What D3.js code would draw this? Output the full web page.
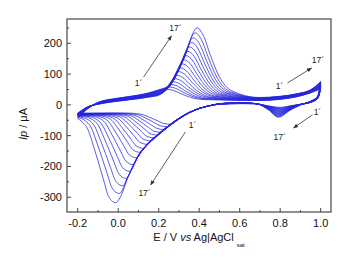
<!DOCTYPE html>
<html><head><meta charset="utf-8">
<script src="https://cdn.jsdelivr.net/npm/d3@7"></script>
<style>
html,body{margin:0;padding:0;background:#fff;}
svg{display:block;font-family:"Liberation Sans",Arial,sans-serif;}
</style></head>
<body>
<svg id="chart" width="350" height="271"></svg>
<script>
// ---------- data (E / V, Ip / µA) ----------
const cycles = [1,2,3,4,5,6,7,8,9,10,11,12,13,14,15,16,17];

const forwardScans = [
 [[-0.2,-27],[-0.15,-6],[-0.1,2],[0,12],[0.1,20],[0.15,25],[0.2,31],[0.225,45],[0.245,50],[0.275,46.4],[0.31,36.3],[0.355,24.8],[0.415,17.6],[0.7,14],[0.8,18],[0.88,26],[0.95,39],[1,52]],
 [[-0.2,-27.6],[-0.15,-6.4],[-0.1,2.4],[0,12.6],[0.1,20.8],[0.15,25.9],[0.209,35],[0.234,52],[0.254,58],[0.284,53.7],[0.319,41.7],[0.364,27.9],[0.424,19.3],[0.7,15],[0.8,19],[0.88,27],[0.95,40],[1,53.5]],
 [[-0.2,-28.3],[-0.15,-6.8],[-0.1,2.8],[0,13.3],[0.1,21.5],[0.15,26.8],[0.218,38],[0.243,59],[0.263,66],[0.293,60.9],[0.328,46.6],[0.373,30.3],[0.433,20.1],[0.7,15],[0.8,19],[0.88,27],[0.95,40],[1,55]],
 [[-0.2,-28.9],[-0.15,-7.1],[-0.1,3.1],[0,13.9],[0.1,22.3],[0.15,27.6],[0.2,34.4],[0.227,43],[0.252,67],[0.272,75],[0.302,69.1],[0.337,52.6],[0.382,33.7],[0.442,21.9],[0.7,16],[0.8,20],[0.88,28],[0.95,41],[1,56.5]],
 [[-0.2,-29.5],[-0.15,-7.5],[-0.1,3.5],[0,14.5],[0.1,23],[0.15,28.5],[0.2,35.5],[0.236,48],[0.261,76],[0.281,85],[0.311,78.2],[0.346,59.2],[0.391,37.4],[0.451,23.8],[0.7,17],[0.8,21],[0.88,29],[0.95,42],[1,58]],
 [[-0.2,-30.1],[-0.15,-7.9],[-0.1,3.9],[0,15.1],[0.1,23.8],[0.15,29.4],[0.2,36.6],[0.245,53],[0.27,85],[0.29,96],[0.32,88.1],[0.355,66],[0.4,40.7],[0.46,24.9],[0.7,17],[0.8,21],[0.88,29],[0.95,42],[1,59.5]],
 [[-0.2,-30.8],[-0.15,-8.3],[-0.1,4.3],[0,15.8],[0.1,24.5],[0.15,30.3],[0.2,37.8],[0.254,61],[0.279,96],[0.299,108],[0.329,99],[0.364,73.8],[0.409,45],[0.469,27],[0.7,18],[0.8,22],[0.88,30],[0.95,43],[1,61]],
 [[-0.2,-31.4],[-0.15,-8.6],[-0.1,4.6],[0,16.4],[0.1,25.3],[0.15,31.1],[0.2,38.9],[0.245,53],[0.263,69],[0.288,107],[0.308,120],[0.338,109.8],[0.373,81.2],[0.418,48.6],[0.478,28.2],[0.7,18],[0.8,22],[0.88,30],[0.95,43],[1,62.5]],
 [[-0.2,-32],[-0.15,-9],[-0.1,5],[0,17],[0.1,26],[0.15,32],[0.2,40],[0.245,54],[0.272,79],[0.297,120],[0.317,133],[0.347,121.6],[0.382,89.7],[0.427,53.2],[0.487,30.4],[0.7,19],[0.8,23],[0.88,31],[0.95,44],[1,64]],
 [[-0.2,-32.6],[-0.15,-9.4],[-0.1,5.4],[0,17.6],[0.1,26.8],[0.15,32.9],[0.2,41.1],[0.245,55],[0.281,89],[0.306,132],[0.326,146],[0.356,133.4],[0.391,98.1],[0.436,57.8],[0.496,32.6],[0.7,20],[0.8,24],[0.88,32],[0.95,45],[1,65.5]],
 [[-0.2,-32.9],[-0.15,-9.8],[-0.1,5.8],[0,18.3],[0.1,27.5],[0.15,33.8],[0.2,42.3],[0.245,56],[0.29,101],[0.315,145],[0.335,160],[0.365,146],[0.4,106.8],[0.445,62],[0.505,34],[0.7,20],[0.8,24],[0.88,32],[0.95,45],[1,67]],
 [[-0.2,-33.9],[-0.15,-10.1],[-0.1,6.1],[0,18.9],[0.1,28.3],[0.15,34.6],[0.2,43.4],[0.245,57],[0.299,113],[0.324,159],[0.344,174],[0.374,158.7],[0.409,115.9],[0.454,66.9],[0.514,36.3],[0.7,21],[0.8,25],[0.88,33],[0.95,46],[1,68.5]],
 [[-0.2,-35.1],[-0.15,-10.5],[-0.1,6.5],[0,19.5],[0.1,29],[0.15,35.5],[0.2,44.5],[0.245,58],[0.29,103],[0.308,126],[0.333,173],[0.353,188],[0.383,171.4],[0.418,124.9],[0.463,71.8],[0.523,38.6],[0.7,22],[0.8,26],[0.88,34],[0.95,47],[1,70]],
 [[-0.2,-36.8],[-0.15,-10.9],[-0.1,6.9],[0,20.1],[0.1,29.8],[0.15,36.4],[0.2,45.6],[0.245,59],[0.29,104],[0.317,140],[0.342,187],[0.362,203],[0.392,184.9],[0.427,134.2],[0.472,76.3],[0.532,40.1],[0.7,22],[0.8,26],[0.88,34],[0.95,47],[1,71.5]],
 [[-0.2,-38.5],[-0.15,-11.3],[-0.1,7.3],[0,20.8],[0.1,30.5],[0.15,37.3],[0.2,46.8],[0.245,59],[0.29,105],[0.326,153],[0.351,202],[0.371,218],[0.401,198.5],[0.436,143.9],[0.481,81.5],[0.541,42.5],[0.7,23],[0.8,27],[0.88,35],[0.95,48],[1,73]],
 [[-0.2,-41],[-0.15,-11.6],[-0.1,7.6],[0,21.4],[0.1,31.3],[0.15,38.1],[0.2,47.9],[0.245,60],[0.29,106],[0.335,168],[0.36,218],[0.38,234],[0.41,212.9],[0.445,153.8],[0.49,86.3],[0.55,44.1],[0.7,23],[0.8,27],[0.88,35],[0.95,48],[1,74.5]],
 [[-0.2,-44.5],[-0.15,-12],[-0.1,8],[0,22],[0.1,32],[0.15,39],[0.2,49],[0.245,60],[0.29,107],[0.344,183],[0.369,233],[0.389,250],[0.419,227.4],[0.454,164.1],[0.499,91.8],[0.559,46.6],[0.7,24],[0.8,28],[0.88,36],[0.95,49],[1,76]]
];

const reverseScans = [
 [[1,52],[0.985,20],[0.95,8],[0.9,2],[0.85,-3],[0.8,-8],[0.74,-3],[0.68,4],[0.6,8],[0.5,4],[0.45,-2.8],[0.4,-11.3],[0.35,-24.4],[0.3,-43.2],[0.26,-63],[0.225,-60.4],[0.2,-53.4],[0.175,-46],[0.15,-39],[0.123,-31.9],[0.09,-28.2],[0.05,-26.7],[0,-26.3],[-0.2,-27]],
 [[1,53.5],[0.985,20.5],[0.95,8.3],[0.9,1.9],[0.85,-3.9],[0.799,-10],[0.74,-3.8],[0.68,4],[0.6,8],[0.5,3.9],[0.45,-2.8],[0.4,-11.3],[0.35,-24.5],[0.3,-43.4],[0.27,-57],[0.243,-71],[0.208,-67.9],[0.183,-59.5],[0.158,-50.6],[0.133,-42.1],[0.106,-33.7],[0.073,-29.3],[0.033,-27.5],[-0.017,-27],[-0.2,-27.6]],
 [[1,55],[0.985,21],[0.95,8.5],[0.9,1.8],[0.85,-4.8],[0.799,-12],[0.74,-4.5],[0.68,4],[0.6,7.5],[0.5,3.8],[0.45,-2.8],[0.4,-11.4],[0.35,-24.6],[0.3,-43.6],[0.25,-66.4],[0.226,-80],[0.191,-76.3],[0.166,-66.3],[0.141,-55.8],[0.116,-45.7],[0.089,-35.7],[0.056,-30.5],[0.016,-28.4],[-0.034,-27.7],[-0.2,-28.3]],
 [[1,56.5],[0.985,21.5],[0.95,8.8],[0.9,1.6],[0.85,-5.6],[0.798,-14],[0.74,-5.3],[0.68,4],[0.6,7.3],[0.5,3.6],[0.45,-2.9],[0.4,-11.4],[0.35,-24.7],[0.3,-43.7],[0.25,-66.6],[0.209,-89],[0.174,-84.7],[0.149,-73.1],[0.124,-60.9],[0.099,-49.3],[0.072,-37.7],[0.039,-31.6],[-0.001,-29.1],[-0.051,-28.4],[-0.2,-28.9]],
 [[1,58],[0.985,22],[0.95,9],[0.9,1.5],[0.85,-6.5],[0.798,-16],[0.74,-6],[0.68,4],[0.6,7],[0.5,3.5],[0.45,-2.9],[0.4,-11.5],[0.35,-24.8],[0.3,-43.9],[0.25,-66.9],[0.22,-82.3],[0.192,-98],[0.157,-93.1],[0.132,-79.9],[0.107,-66],[0.082,-52.8],[0.055,-39.6],[0.022,-32.7],[-0.018,-29.9],[-0.068,-29.1],[-0.2,-29.5]],
 [[1,59.5],[0.985,22.5],[0.95,9.3],[0.9,1.4],[0.85,-7.4],[0.797,-18],[0.74,-6.8],[0.68,4],[0.6,6.8],[0.5,3.4],[0.45,-2.9],[0.4,-11.5],[0.35,-24.9],[0.3,-44.1],[0.25,-67.1],[0.2,-93],[0.175,-107],[0.14,-101.6],[0.115,-86.7],[0.09,-71.2],[0.065,-56.4],[0.038,-41.6],[0.005,-33.8],[-0.035,-30.7],[-0.085,-29.7],[-0.2,-30.1]],
 [[1,61],[0.985,23],[0.95,9.5],[0.9,1.3],[0.85,-8.3],[0.796,-20],[0.74,-7.5],[0.68,4],[0.6,6.5],[0.5,3.3],[0.45,-2.9],[0.4,-11.6],[0.35,-25],[0.3,-44.3],[0.25,-67.4],[0.2,-93.4],[0.158,-117],[0.123,-110.9],[0.098,-94.3],[0.073,-76.9],[0.048,-60.3],[0.021,-43.8],[-0.012,-35],[-0.052,-31.5],[-0.102,-30.5],[-0.2,-30.8]],
 [[1,62.5],[0.985,23.5],[0.95,9.8],[0.9,1.1],[0.85,-9.1],[0.796,-22],[0.74,-8.3],[0.68,4],[0.6,6.3],[0.5,3.1],[0.45,-2.9],[0.4,-11.6],[0.35,-25.1],[0.3,-44.4],[0.25,-67.6],[0.2,-93.7],[0.17,-110.5],[0.141,-128],[0.106,-121.2],[0.081,-102.6],[0.056,-83.1],[0.031,-64.6],[0.004,-46],[-0.029,-36.3],[-0.069,-32.4],[-0.119,-31.2],[-0.2,-31.4]],
 [[1,64],[0.985,24],[0.95,10],[0.9,1],[0.85,-10],[0.795,-24],[0.74,-9],[0.68,4],[0.6,6],[0.5,3],[0.45,-2.9],[0.4,-11.6],[0.35,-25.2],[0.3,-44.6],[0.25,-67.9],[0.2,-94.1],[0.15,-122.2],[0.124,-141],[0.089,-133.3],[0.064,-112.4],[0.039,-90.4],[0.014,-69.5],[-0.013,-48.6],[-0.046,-37.6],[-0.086,-33.2],[-0.136,-31.9],[-0.2,-32]],
 [[1,65.5],[0.985,24.5],[0.95,10.3],[0.9,0.9],[0.85,-10.9],[0.794,-26],[0.74,-9.8],[0.68,4],[0.6,5.8],[0.5,2.9],[0.45,-2.9],[0.4,-11.7],[0.35,-25.3],[0.3,-44.8],[0.25,-68.2],[0.2,-94.5],[0.15,-122.7],[0.107,-154],[0.072,-145.4],[0.047,-122.2],[0.022,-97.7],[-0.003,-74.4],[-0.03,-51.2],[-0.063,-38.9],[-0.103,-34.1],[-0.153,-32.6],[-0.2,-32.6]],
 [[1,67],[0.985,25],[0.95,10.5],[0.9,0.8],[0.85,-11.8],[0.794,-28],[0.74,-10.5],[0.68,4],[0.6,5.5],[0.5,2.8],[0.45,-2.9],[0.4,-11.7],[0.35,-25.4],[0.3,-45],[0.25,-68.4],[0.2,-94.8],[0.15,-123.2],[0.12,-146.6],[0.09,-172],[0.055,-162.2],[0.03,-135.7],[0.005,-107.7],[-0.02,-81.2],[-0.047,-54.7],[-0.08,-40.7],[-0.12,-35.1],[-0.17,-33.4],[-0.2,-32.9]],
 [[1,68.5],[0.985,25.5],[0.95,10.8],[0.9,0.6],[0.85,-12.6],[0.793,-30],[0.74,-11.3],[0.68,4],[0.6,5.3],[0.5,2.6],[0.45,-2.9],[0.4,-11.8],[0.35,-25.5],[0.3,-45.1],[0.25,-68.7],[0.2,-95.2],[0.15,-123.6],[0.1,-162.8],[0.073,-194],[0.038,-182.7],[0.013,-152.1],[-0.012,-119.9],[-0.037,-89.3],[-0.064,-58.7],[-0.097,-42.6],[-0.137,-36.1],[-0.2,-33.9]],
 [[1,70],[0.985,26],[0.95,11],[0.9,0.5],[0.85,-13.5],[0.793,-32],[0.74,-12],[0.68,4],[0.6,5],[0.5,2.5],[0.45,-3],[0.4,-11.8],[0.35,-25.6],[0.3,-45.3],[0.25,-69],[0.2,-95.5],[0.15,-124.1],[0.1,-163.5],[0.056,-216],[0.021,-203.2],[-0.004,-168.6],[-0.029,-132.1],[-0.054,-97.4],[-0.081,-62.7],[-0.114,-44.5],[-0.154,-37.2],[-0.2,-35.1]],
 [[1,71.5],[0.985,26.5],[0.95,11.3],[0.9,0.4],[0.85,-14.4],[0.792,-34],[0.74,-12.8],[0.68,4],[0.6,4.8],[0.5,2.4],[0.45,-3],[0.4,-11.9],[0.35,-25.7],[0.3,-45.5],[0.25,-69.2],[0.2,-95.9],[0.15,-124.6],[0.1,-164.2],[0.07,-203],[0.039,-239],[0.004,-224.7],[-0.021,-185.7],[-0.046,-144.7],[-0.071,-105.8],[-0.098,-66.9],[-0.131,-46.4],[-0.171,-38.2],[-0.2,-36.8]],
 [[1,73],[0.985,27],[0.95,11.5],[0.9,0.3],[0.85,-15.3],[0.791,-36],[0.74,-13.5],[0.68,4],[0.6,4.5],[0.5,2.3],[0.45,-3],[0.4,-11.9],[0.35,-25.8],[0.3,-45.7],[0.25,-69.5],[0.2,-96.3],[0.15,-125.1],[0.1,-164.8],[0.05,-230.3],[0.022,-263],[-0.013,-247],[-0.038,-203.7],[-0.063,-158],[-0.088,-114.7],[-0.115,-71.3],[-0.148,-48.5],[-0.2,-38.5]],
 [[1,74.5],[0.985,27.5],[0.95,11.8],[0.9,0.1],[0.85,-16.1],[0.791,-38],[0.74,-14.3],[0.68,4],[0.6,4.3],[0.5,2.1],[0.45,-3],[0.4,-12],[0.35,-25.9],[0.3,-45.8],[0.25,-69.7],[0.2,-96.6],[0.15,-125.5],[0.1,-165.3],[0.05,-231.1],[0.005,-288],[-0.03,-270.3],[-0.055,-222.3],[-0.08,-171.8],[-0.105,-123.8],[-0.132,-75.8],[-0.165,-50.6],[-0.2,-41]],
 [[1,76],[0.985,28],[0.95,12],[0.9,0],[0.85,-17],[0.79,-40],[0.74,-15],[0.68,4],[0.6,4],[0.5,2],[0.45,-3],[0.4,-12],[0.35,-26],[0.3,-46],[0.25,-70],[0.2,-97],[0.15,-126],[0.1,-166],[0.05,-232],[0.01,-300],[-0.012,-318],[-0.047,-298.3],[-0.072,-244.7],[-0.097,-188.3],[-0.122,-134.7],[-0.149,-81.1],[-0.182,-52.9],[-0.2,-44.5]]
];

const xTickValues = [-0.2, 0.0, 0.2, 0.4, 0.6, 0.8, 1.0];
const xMinorTicks = [-0.1, 0.1, 0.3, 0.5, 0.7, 0.9];
const yTickValues = [-300, -200, -100, 0, 100, 200];
const yMinorTicks = [-250, -150, -50, 50, 150, 250];

// cycle-trend annotations: arrow from [E,I] to [E,I], labels at [E,I]
const arrowFrom   = [[0.125, 90], [0.836, 71], [0.960, -32], [0.332, -88]];
const arrowTo     = [[0.263, 224], [0.955, 120], [0.866, -75], [0.160, -260]];
const labelStart  = [[0.100, 70], [0.797, 61], [0.984, -22], [0.367, -67]];
const labelEnd    = [[0.283, 251], [0.986, 147], [0.797, -105], [0.130, -287]];
const startText = "1´", endText = "17´";

// ---------- drawing ----------
const svg = d3.select("#chart");
const pL = 67, pR = 331, pT = 19, pB = 212;
const x = d3.scaleLinear().domain([-0.253, 1.051]).range([pL, pR]);
const y = d3.scaleLinear().domain([-348, 279]).range([pB, pT]);

const line = d3.line().x(d => x(d[0])).y(d => y(d[1])).curve(d3.curveMonotoneX);
const curveColor = "#2626dc";

const g = svg.append("g");
cycles.forEach((c, i) => {
  const fw = forwardScans[i];
  const rv = reverseScans[i].slice().sort((a, b) => a[0] - b[0]);
  g.append("path").attr("d", line(fw)).attr("fill", "none")
    .attr("stroke", curveColor).attr("stroke-width", 0.75);
  g.append("path").attr("d", line(rv)).attr("fill", "none")
    .attr("stroke", curveColor).attr("stroke-width", 0.75);
});

// frame
svg.append("rect").attr("x", pL).attr("y", pT)
  .attr("width", pR - pL).attr("height", pB - pT)
  .attr("fill", "none").attr("stroke", "#555").attr("stroke-width", 1.3);

// ticks (inward, left & bottom only)
const tickCol = "#444";
svg.append("g").selectAll("line").data(xTickValues).join("line")
  .attr("x1", d => x(d)).attr("x2", d => x(d)).attr("y1", pB).attr("y2", pB - 4)
  .attr("stroke", tickCol).attr("stroke-width", 1);
svg.append("g").selectAll("line").data(xMinorTicks).join("line")
  .attr("x1", d => x(d)).attr("x2", d => x(d)).attr("y1", pB).attr("y2", pB - 2)
  .attr("stroke", tickCol).attr("stroke-width", 1);
svg.append("g").selectAll("line").data(yTickValues).join("line")
  .attr("y1", d => y(d)).attr("y2", d => y(d)).attr("x1", pL).attr("x2", pL + 4)
  .attr("stroke", tickCol).attr("stroke-width", 1);
svg.append("g").selectAll("line").data(yMinorTicks).join("line")
  .attr("y1", d => y(d)).attr("y2", d => y(d)).attr("x1", pL).attr("x2", pL + 2)
  .attr("stroke", tickCol).attr("stroke-width", 1);

// tick labels
svg.append("g").selectAll("text").data(xTickValues).join("text")
  .attr("x", d => x(d)).attr("y", pB + 14.5).attr("text-anchor", "middle")
  .attr("font-size", 11).attr("fill", "#111")
  .text(d => d3.format(".1f")(d).replace("−", "-"));
svg.append("g").selectAll("text").data(yTickValues).join("text")
  .attr("x", pL - 5).attr("y", d => y(d)).attr("dy", "0.36em").attr("text-anchor", "end")
  .attr("font-size", 11).attr("fill", "#111")
  .text(d => String(d));

// axis titles
const xt = svg.append("text").attr("x", (pL + pR) / 2).attr("y", 240.5)
  .attr("text-anchor", "middle").attr("font-size", 11).attr("fill", "#111");
xt.append("tspan").text("E / V ");
xt.append("tspan").attr("font-style", "italic").text("vs");
xt.append("tspan").text(" Ag|AgCl");
xt.append("tspan").attr("font-size", 6).attr("dx", 3).attr("dy", 6).text("sat");

const yt = svg.append("text").attr("transform", "translate(27,124) rotate(-90)")
  .attr("text-anchor", "middle").attr("font-size", 11).attr("fill", "#111");
yt.append("tspan").attr("font-style", "italic").text("Ip");
yt.append("tspan").text(" / μA");

// annotations
svg.append("defs").append("marker").attr("id", "ah")
  .attr("viewBox", "0 0 10 10").attr("refX", 9).attr("refY", 5)
  .attr("markerWidth", 5).attr("markerHeight", 5).attr("markerUnits", "userSpaceOnUse")
  .attr("orient", "auto")
  .append("path").attr("d", "M0,1 L10,5 L0,9 z").attr("fill", "#333");

arrowFrom.forEach((a, i) => {
  const b = arrowTo[i];
  svg.append("line").attr("x1", x(a[0])).attr("y1", y(a[1]))
    .attr("x2", x(b[0])).attr("y2", y(b[1]))
    .attr("stroke", "#333").attr("stroke-width", 0.8).attr("marker-end", "url(#ah)");
  svg.append("text").attr("x", x(labelStart[i][0])).attr("y", y(labelStart[i][1]))
    .attr("dy", "0.35em").attr("text-anchor", "middle").attr("font-size", 8.5)
    .attr("fill", "#222").text(startText);
  svg.append("text").attr("x", x(labelEnd[i][0])).attr("y", y(labelEnd[i][1]))
    .attr("dy", "0.35em").attr("text-anchor", "middle").attr("font-size", 8.5)
    .attr("fill", "#222").text(endText);
});
</script>
</body></html>
